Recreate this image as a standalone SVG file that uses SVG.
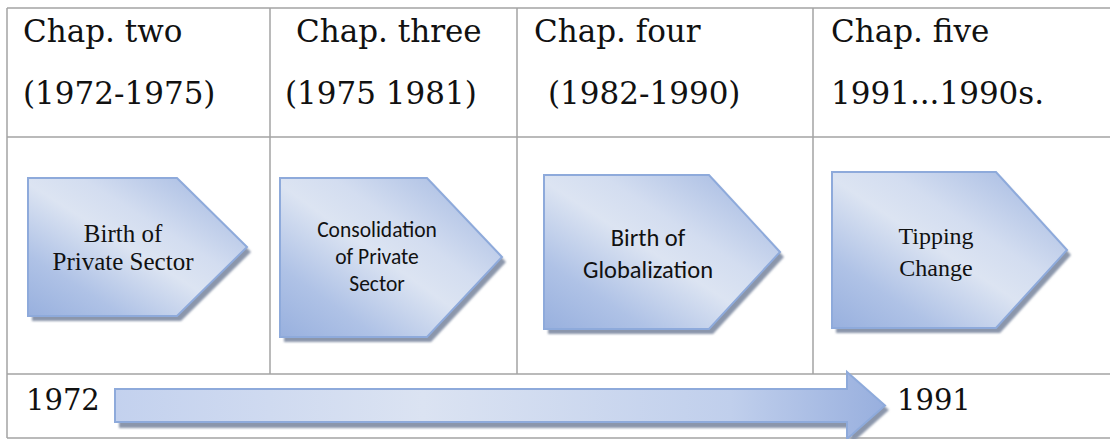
<svg xmlns="http://www.w3.org/2000/svg" width="1110" height="439" viewBox="0 0 1110 439">
<defs>
  <linearGradient id="chev" x1="0" y1="1" x2="1" y2="0">
    <stop offset="0" stop-color="#98b0de"/>
    <stop offset="0.22" stop-color="#afc2e6"/>
    <stop offset="0.48" stop-color="#dce4f2"/>
    <stop offset="0.62" stop-color="#d3ddf0"/>
    <stop offset="1" stop-color="#9cb3df"/>
  </linearGradient>
  <linearGradient id="arr" x1="0" y1="0" x2="1" y2="0">
    <stop offset="0" stop-color="#c3d1ee"/>
    <stop offset="0.4" stop-color="#dbe3f2"/>
    <stop offset="0.8" stop-color="#c0cfec"/>
    <stop offset="1" stop-color="#98afde"/>
  </linearGradient>
  <filter id="blur" x="-5%" y="-5%" width="110%" height="115%">
    <feGaussianBlur stdDeviation="1"/>
  </filter>
  <style>
    .grid { stroke: #a3a3a3; stroke-width: 1.5; fill: none; }
    .hdr { font-family: 'DejaVu Serif', 'Noto Serif', 'Liberation Serif', FreeSerif, Georgia, Times, serif; font-size: 31px; fill: #111; }
    .yr { font-family: 'DejaVu Serif', 'Noto Serif', 'Liberation Serif', FreeSerif, Georgia, Times, serif; font-size: 29px; fill: #111; }
    .shape { fill: url(#chev); stroke: #8eaadb; stroke-width: 2; }
    .shadow { fill: #8b96ab; filter: url(#blur); }
    .serif { font-family: 'Liberation Serif', 'Times New Roman', Tinos, 'Noto Serif', FreeSerif, Times, serif; fill: #111; text-anchor: middle; }
    .sans { font-family: Carlito, Lato, 'Liberation Sans', sans-serif; fill: #111; text-anchor: middle; }
  </style>
</defs>
<rect x="0" y="0" width="1110" height="439" fill="#ffffff"/>

<g id="table">
  <line class="grid" x1="7" y1="8" x2="1110" y2="8"/>
  <line class="grid" x1="7" y1="137" x2="1110" y2="137"/>
  <line class="grid" x1="7" y1="374" x2="1110" y2="374"/>
  <line class="grid" x1="7" y1="438" x2="1110" y2="438"/>
  <line class="grid" x1="7" y1="8" x2="7" y2="438"/>
  <line class="grid" x1="270" y1="8" x2="270" y2="374"/>
  <line class="grid" x1="517" y1="8" x2="517" y2="374"/>
  <line class="grid" x1="813" y1="8" x2="813" y2="374"/>
</g>

<g id="headers">
  <text class="hdr" x="23" y="42">Chap. two</text>
  <text class="hdr" x="23" y="104">(1972-1975)</text>
  <text class="hdr" x="296" y="42">Chap. three</text>
  <text class="hdr" x="285" y="104">(1975 1981)</text>
  <text class="hdr" x="534" y="42">Chap. four</text>
  <text class="hdr" x="548" y="104">(1982-1990)</text>
  <text class="hdr" x="831" y="42">Chap. five</text>
  <text class="hdr" x="831" y="104">1991...1990s.</text>
</g>

<g id="node-birth-private">
  <polygon class="shadow" points="32,183 181,183 251,252 181,321 32,321"/>
  <polygon class="shape" points="28,178 177,178 247,247 177,316 28,316"/>
  <text class="serif" font-size="25" x="123" y="242">Birth of</text>
  <text class="serif" font-size="25" x="123" y="270">Private Sector</text>
</g>

<g id="node-consolidation">
  <polygon class="shadow" points="284,183 431,183 506,262 431,342 284,342"/>
  <polygon class="shape" points="280,178 427,178 502,257 427,337 280,337"/>
  <text class="sans" font-size="21.5" x="377" y="237">Consolidation</text>
  <text class="sans" font-size="21.5" x="377" y="264">of Private</text>
  <text class="sans" font-size="21.5" x="377" y="291">Sector</text>
</g>

<g id="node-globalization">
  <polygon class="shadow" points="548,180 713,180 784,257 713,334 548,334"/>
  <polygon class="shape" points="544,175 709,175 780,252 709,329 544,329"/>
  <text class="sans" font-size="24.5" x="648" y="246">Birth of</text>
  <text class="sans" font-size="24.5" x="648" y="278">Globalization</text>
</g>

<g id="node-tipping">
  <polygon class="shadow" points="836,177 1000,177 1071,255 1000,333 836,333"/>
  <polygon class="shape" points="832,172 996,172 1067,250 996,328 832,328"/>
  <text class="serif" font-size="24" x="936" y="244">Tipping</text>
  <text class="serif" font-size="24" x="936" y="276">Change</text>
</g>

<g id="connectors">
  <polygon class="shadow" points="119,394 851,394 851,377 889,410 851,444 851,428 119,428"/>
  <polygon fill="url(#arr)" stroke="#8eaadb" stroke-width="2" points="115,389 847,389 847,372 885,405.5 847,439 847,422 115,422"/>
</g>

<g id="years">
  <text class="yr" x="26" y="410">1972</text>
  <text class="yr" x="897" y="410">1991</text>
</g>
</svg>
